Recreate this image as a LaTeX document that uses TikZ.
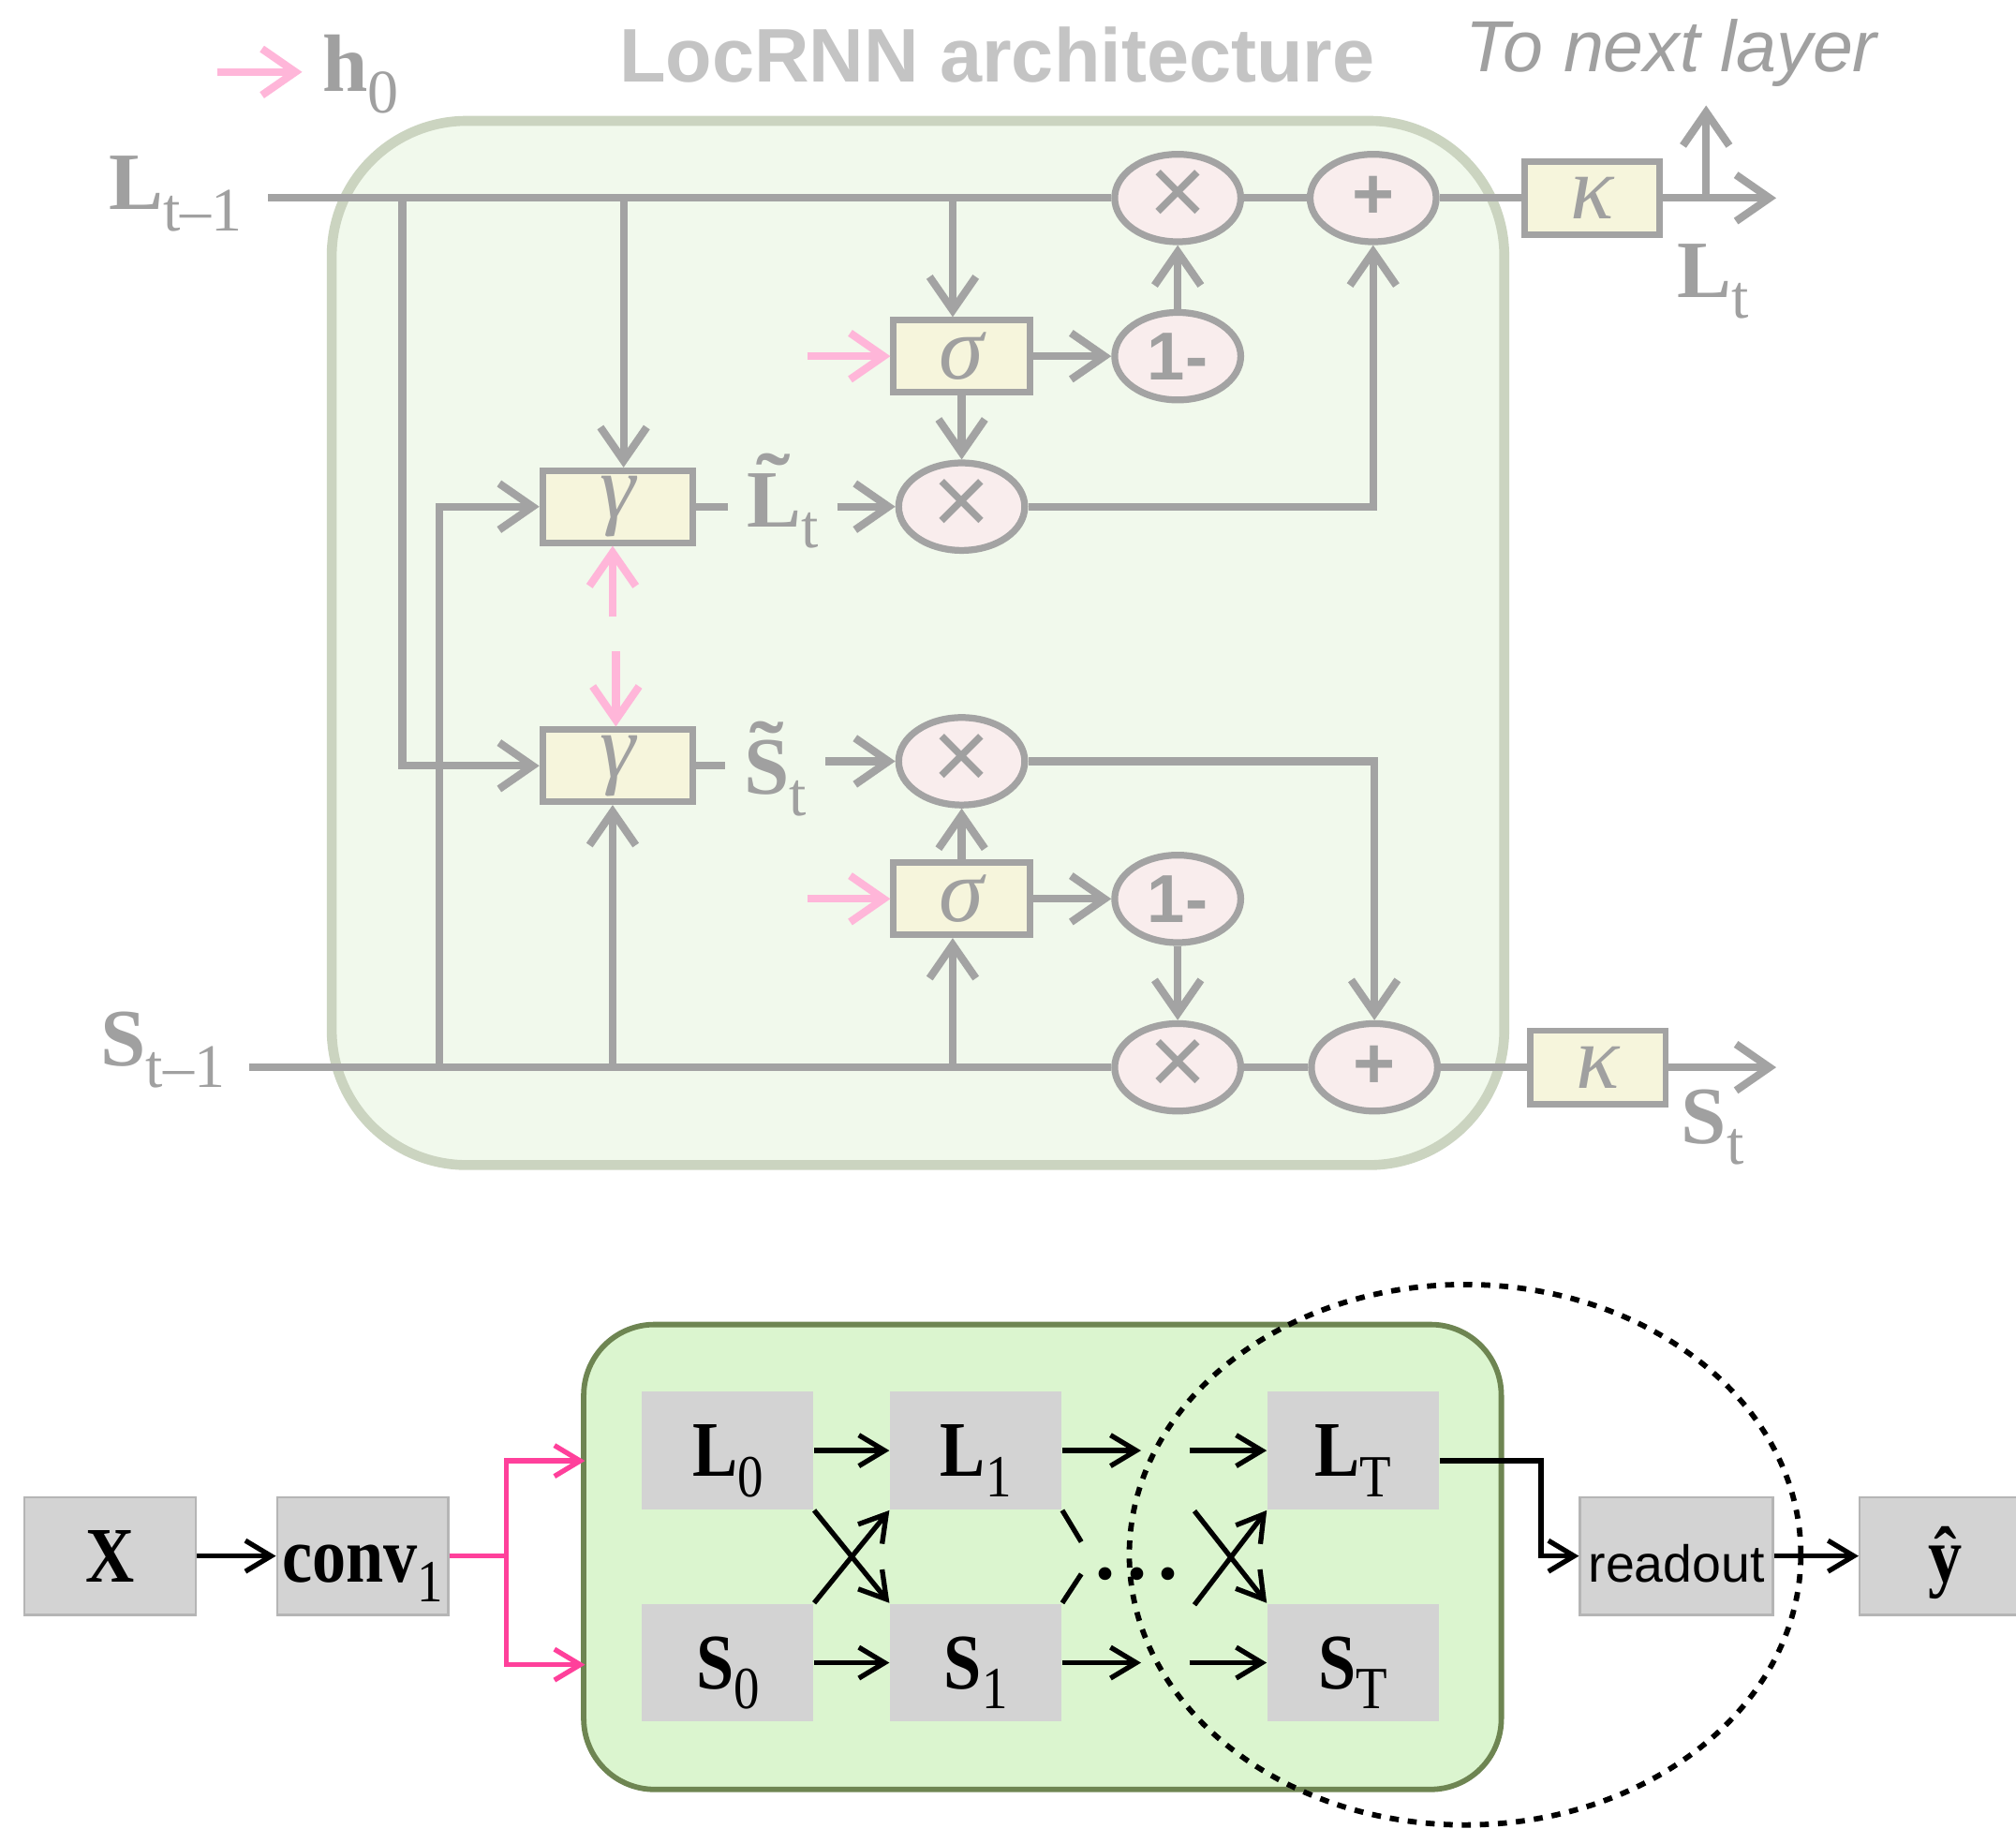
\documentclass[tikz,border=0pt]{standalone}
\usepackage{xcolor}
\usepackage{fontspec}
\setmainfont{Liberation Serif}
\setsansfont{Liberation Sans}
\usepackage{tikz}
\usetikzlibrary{arrows.meta,shapes.geometric}

\definecolor{cellgray}{RGB}{163,163,163}
\definecolor{txtgray}{RGB}{160,160,160}
\definecolor{titlegray}{RGB}{196,196,196}
\definecolor{hpink}{RGB}{255,182,217}
\definecolor{gatefill}{RGB}{246,245,220}
\definecolor{opfill}{RGB}{249,237,237}
\definecolor{cellfill}{RGB}{241,249,236}
\definecolor{celledge}{RGB}{203,212,192}
\definecolor{unrollfill}{RGB}{219,245,207}
\definecolor{unrolledge}{RGB}{110,133,82}
\definecolor{blockgray}{RGB}{211,211,211}
\definecolor{blockedge}{RGB}{181,181,181}
\definecolor{convpink}{RGB}{255,64,155}

\newcommand{\labelsz}{\fontsize{18}{20}\selectfont}
\newcommand{\titlesz}{\fontsize{16.8}{19}\selectfont}
\newcommand{\nextsz}{\fontsize{16}{18}\selectfont}
\newcommand{\greeksz}{\fontsize{20}{22}\selectfont}
\newcommand{\mulsz}{\fontsize{22}{24}\selectfont}
\newcommand{\opsz}{\fontsize{15}{17}\selectfont}
\newcommand{\plussz}{\fontsize{16}{18}\selectfont}
\newcommand{\blocksz}{\fontsize{17.4}{19}\selectfont}
\newcommand{\readsz}{\fontsize{11.5}{13}\selectfont}
% lowered, slightly smaller index
\newcommand{\lsub}[1]{\raisebox{-0.26em}{\scalebox{0.76}{#1}}}
% narrower lettering in the blocks
\newcommand{\narrow}[1]{\scalebox{0.86}[1]{#1}}
% bold capital with a tilde on top
\newcommand{\tildeof}[1]{\ooalign{\bfseries #1\cr\hidewidth\raisebox{0.2em}{\scalebox{1.25}[1]{\bfseries\char"02DC}}\hidewidth\cr}}

\begin{document}
\begin{tikzpicture}[x=0.01cm, y=-0.01cm,
    wire/.style={draw=cellgray, line width=1.7pt},
    gwire/.style={wire, -{Straight Barb[length=2.6mm,width=3.6mm]}},
    pwire/.style={draw=hpink, line width=1.7pt, -{Straight Barb[length=2.6mm,width=3.6mm]}},
    gate/.style={draw=cellgray, line width=1.4pt, fill=gatefill, minimum height=0.56cm, inner sep=0pt, text=txtgray, font=\greeksz\itshape},
    op/.style={ellipse, draw=cellgray, line width=1.5pt, fill=opfill, minimum width=0.98cm, minimum height=0.68cm, inner sep=0pt, text=txtgray},
    glabel/.style={text=txtgray, font=\labelsz, inner sep=0pt, anchor=base west},
    block/.style={fill=blockgray, minimum width=1.33cm, minimum height=0.915cm, inner sep=0pt, text height=0.4cm, text depth=0pt, font=\blocksz},
    io/.style={block, draw=blockedge, line width=0.5pt},
    flow/.style={draw=black, line width=1.1pt, -{Straight Barb[length=2mm,width=2.4mm]}},
    cwire/.style={draw=convpink, line width=1.1pt},
  ]
    \useasboundingbox (0,0) rectangle (1568,1422);

    % ---- the cell ----
    \draw[fill=cellfill, draw=celledge, line width=2.2pt, rounded corners=1.05cm] (258,94) rectangle (1170,906);

    \node[anchor=base, font=\titlesz\sffamily\bfseries, text=titlegray, inner sep=0pt] (title) at (775.5,63.5) {LocRNN architecture};
    \node[anchor=base, font=\nextsz\sffamily\itshape, text=txtgray, inner sep=0pt] (toNext) at (1300,56) {To next layer};

    % h0 legend
    \coordinate (h0a) at (168.7,56);
    \coordinate (h0b) at (235,56);
    \draw[pwire] (h0a) -- (h0b);
    \node[glabel] (hzero) at (250,71) {\textbf{h}\lsub{0}};

    % gates and ops
    \node[gate, minimum width=1.17cm] (gL) at (480.5,394) {γ};
    \node[gate, minimum width=1.17cm] (gS) at (480.5,595.5) {γ};
    \node[gate, minimum width=1.06cm] (sigL) at (748,277) {σ};
    \node[gate, minimum width=1.06cm] (sigS) at (748,699) {σ};
    \node[gate, minimum width=1.05cm, minimum height=0.57cm] (kapL) at (1238.5,154) {κ};
    \node[gate, minimum width=1.05cm, minimum height=0.57cm] (kapS) at (1243,830) {κ};

    \node[op, font=\mulsz\sffamily] (mulL) at (916,154) {×};
    \node[op, font=\plussz\sffamily\bfseries] (addL) at (1068,154) {+};
    \node[op, font=\opsz\sffamily\bfseries] (oneL) at (916,277) {1-};
    \node[op, font=\mulsz\sffamily] (mulLt) at (748,394) {×};
    \node[op, font=\mulsz\sffamily] (mulSt) at (748,592) {×};
    \node[op, font=\opsz\sffamily\bfseries] (oneS) at (916,699) {1-};
    \node[op, font=\mulsz\sffamily] (mulS) at (916,830) {×};
    \node[op, font=\plussz\sffamily\bfseries] (addS) at (1069,830) {+};

    % labels
    \node[glabel] (Lprev) at (84,163) {\textbf{L}\lsub{t–1}};
    \node[glabel] (Sprev) at (77.7,829) {\textbf{S}\lsub{t–1}};
    \node[glabel] (Lnext) at (1304,231) {\textbf{L}\lsub{t}};
    \node[glabel] (Snext) at (1307,889) {\textbf{S}\lsub{t}};
    \node[glabel, inner sep=4pt] (tL) at (566,409.6) {\tildeof{L}\lsub{t}};
    \node[glabel, inner sep=4pt] (tS) at (564,617.8) {\tildeof{S}\lsub{t}};

    % L stream
    \coordinate (Lin) at (208.6,154);
    \coordinate (Lout) at (1381.5,154);
    \draw[wire] (Lin) -- (mulL) -- (addL) -- (kapL);
    \draw[gwire] (kapL) -- (Lout);
    \coordinate (up0) at (1327,154);
    \coordinate (up1) at (1327,82);
    \draw[gwire] (up0) -- (up1);

    % S stream
    \coordinate (Sin) at (194,830);
    \coordinate (Sout) at (1381.5,830);
    \draw[wire] (Sin) -- (mulS) -- (addS) -- (kapS);
    \draw[gwire] (kapS) -- (Sout);

    % taps off L
    \coordinate (jA) at (313,154);
    \coordinate (jB) at (485,154);
    \coordinate (jC) at (741,154);
    \draw[gwire] (jA) |- (gS);
    \draw[gwire] (jB) -- (jB |- gL.north);
    \draw[gwire] (jC) -- (jC |- sigL.north);

    % taps off S
    \coordinate (kA) at (341.5,830);
    \coordinate (kB) at (476.5,830);
    \coordinate (kC) at (741,830);
    \draw[gwire] (kA) |- (gL);
    \draw[gwire] (kB) -- (kB |- gS.south);
    \draw[gwire] (kC) -- (kC |- sigS.south);

    % upper path
    \draw[wire] (gL.east) -- (gL.east -| tL.west);
    \draw[gwire] (tL.east |- mulLt) -- (mulLt);
    \draw[gwire] (sigL) -- (oneL);
    \draw[gwire] (sigL) -- (mulLt);
    \draw[gwire] (oneL) -- (mulL);
    \draw[gwire] (mulLt) -| (addL);

    % lower path
    \draw[wire] (gS.east) -- (gS.east -| tS.west);
    \draw[gwire] (tS.east |- mulSt) -- (mulSt);
    \draw[gwire] (sigS) -- (oneS);
    \draw[gwire] (sigS) -- (mulSt);
    \draw[gwire] (oneS) -- (mulS);
    \draw[gwire] (mulSt) -| (addS);

    % h0 inputs
    \coordinate (hL) at (628,277);
    \coordinate (hS) at (628,699);
    \coordinate (hUp) at (476.5,479.5);
    \coordinate (hDn) at (479,506.5);
    \draw[pwire] (hL) -- (sigL);
    \draw[pwire] (hS) -- (sigS);
    \draw[pwire] (hUp) -- (hUp |- gL.south);
    \draw[pwire] (hDn) -- (hDn |- gS.north);

    % ---- unrolled network ----
    \draw[fill=unrollfill, draw=unrolledge, line width=1.2pt, rounded corners=0.55cm] (454,1030) rectangle (1167.7,1391.5);

    \node[io] (X) at (85.6,1210) {\narrow{\textbf{X}}};
    \node[io] (conv) at (282,1210) {\narrow{\textbf{conv}\lsub{1}}};
    \node[io, minimum width=1.5cm, font=\readsz\sffamily] (ro) at (1304,1210) {readout};
    \node[io] (yhat) at (1513,1210) {\narrow{\textbf{\^{y}}}};

    \node[block] (L0) at (566,1128) {\narrow{\textbf{L}\lsub{0}}};
    \node[block] (S0) at (566,1293) {\narrow{\textbf{S}\lsub{0}}};
    \node[block] (L1) at (759,1128) {\narrow{\textbf{L}\lsub{1}}};
    \node[block] (S1) at (759,1293) {\narrow{\textbf{S}\lsub{1}}};
    \node[block] (LT) at (1052.5,1128) {\narrow{\textbf{L}\lsub{T}}};
    \node[block] (ST) at (1052.5,1293) {\narrow{\textbf{S}\lsub{T}}};
    \node[anchor=base, font=\blocksz\bfseries, inner sep=0pt] (dots) at (884.5,1228) {.\hspace{2.6pt}.\hspace{2.6pt}.};

    \draw[flow] (X) -- (conv);

    % conv1 feeds both streams
    \coordinate (split) at (393.6,1210);
    \coordinate (entL) at (455,1136);
    \coordinate (entS) at (455,1294.5);
    \draw[cwire] (conv) -- (split);
    \draw[cwire, -{Straight Barb[length=2mm,width=2.4mm]}] (split) |- (entL);
    \draw[cwire, -{Straight Barb[length=2mm,width=2.4mm]}] (split) |- (entS);

    \draw[flow] (L0) -- (L1);
    \draw[flow] (S0) -- (S1);
    \draw[flow] (L0.south east) -- (S1.north west);
    \draw[flow] (S0.north east) -- (L1.south west);

    \coordinate (mL1) at (887.5,1128);
    \coordinate (mL2) at (925,1128);
    \coordinate (mS1) at (887.5,1293);
    \coordinate (mS2) at (925,1293);
    \draw[flow] (L1) -- (mL1);
    \draw[flow] (mL2) -- (LT);
    \draw[flow] (S1) -- (mS1);
    \draw[flow] (mS2) -- (ST);

    \coordinate (pL) at (841,1199);
    \coordinate (pS) at (841,1224);
    \draw[line width=1.1pt] (L1.south east) -- (pL);
    \draw[line width=1.1pt] (S1.north east) -- (pS);

    \coordinate (cxA) at (929,1175);
    \coordinate (cxB) at (929,1248);
    \draw[flow] (cxA) -- (ST.north west);
    \draw[flow] (cxB) -- (LT.south west);

    % readout from the last step
    \coordinate (jR) at (1198.6,1136);
    \draw[flow] (LT.east |- jR) -- (jR) |- (ro);
    \draw[flow] (ro) -- (yhat);

    \draw[line width=1.2pt, dash pattern=on 2pt off 2pt] (1139.5,1209) ellipse [x radius=2.61cm, y radius=2.10cm];
\end{tikzpicture}
\end{document}
